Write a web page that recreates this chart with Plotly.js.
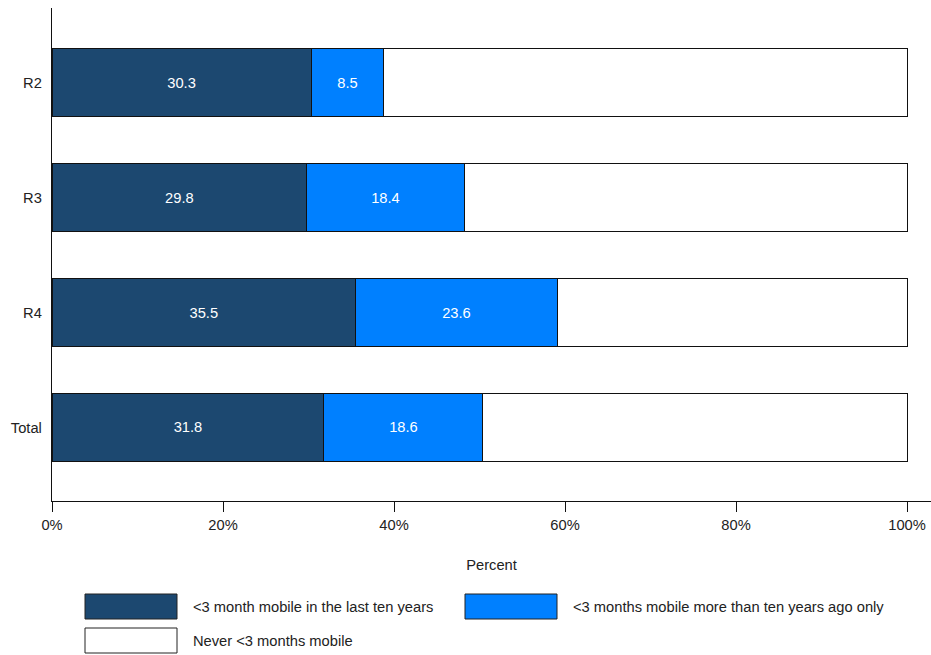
<!DOCTYPE html>
<html>
<head>
<meta charset="utf-8">
<script src="https://cdn.plot.ly/plotly-3.0.1.min.js"></script>
<style>html,body{margin:0;padding:0;background:#fff;}#chart{width:931px;height:655px;}</style>
</head>
<body>
<div id="chart"></div>
<script>
const categories = ["Total", "R4", "R3", "R2"];
const recentMobile = [31.8, 35.5, 29.8, 30.3];
const olderMobile = [18.6, 23.6, 18.4, 8.5];
const neverMobile = [49.6, 40.9, 51.8, 61.2];
const seriesNames = ["<3 month mobile in the last ten years", "<3 months mobile more than ten years ago only", "Never <3 months mobile"];
const seriesColors = ["#1c4870", "#0080ff", "#ffffff"];
const xTickVals = [0, 20, 40, 60, 80, 100];
const xTickText = ["0%", "20%", "40%", "60%", "80%", "100%"];

const font = "Liberation Sans, Arial, sans-serif";
const fs = 14.7;
const values = [recentMobile, olderMobile, neverMobile];
const traces = values.map((v, i) => ({
  type: "bar",
  orientation: "h",
  y: categories,
  x: v,
  name: seriesNames[i],
  width: 0.59,
  marker: {color: seriesColors[i], line: {color: "#111", width: 1}},
  text: i < 2 ? v.map(d => d.toFixed(1)) : undefined,
  textposition: i < 2 ? "inside" : "none",
  insidetextanchor: "middle",
  textfont: {color: "#ffffff", size: 14.7, family: font},
  hoverinfo: "x+name",
  showlegend: false
}));

// custom legend
const legendPos = [[85, 594], [465, 594], [85, 628]];
const shapes = [];
const annotations = [];
legendPos.forEach((p, i) => {
  shapes.push({type: "rect", xref: "paper", yref: "paper",
    x0: (p[0] - 52) / 879, x1: (p[0] + 92 - 52) / 879,
    y0: (501 - p[1]) / 493, y1: (501 - p[1] - 25) / 493,
    fillcolor: seriesColors[i], line: {color: "#222", width: 1}});
  annotations.push({xref: "paper", yref: "paper", x: (p[0] + 106 - 52) / 879,
    y: (501 - p[1] - 12.5) / 493, xanchor: "left", yanchor: "middle",
    text: seriesNames[i].replace(/</g, "&lt;"), showarrow: false,
    font: {family: font, size: fs, color: "#222"}});
});

const layout = {
  width: 931, height: 655,
  margin: {l: 52, r: 0, t: 8, b: 154},
  barmode: "stack",
  paper_bgcolor: "#fff", plot_bgcolor: "#fff",
  font: {family: font, size: fs, color: "#222"},
  xaxis: {
    range: [0, 102.8], tickvals: xTickVals, ticktext: xTickText,
    ticks: "outside", ticklen: 10, tickcolor: "#111", tickwidth: 1,
    showline: true, linecolor: "#111", linewidth: 1.2,
    showgrid: false, zeroline: false, fixedrange: true,
    tickfont: {family: font, size: fs, color: "#222"},
    title: {text: "Percent", font: {family: font, size: fs, color: "#222"}, standoff: 27}
  },
  yaxis: {
    range: [-0.64, 3.65], showline: true, linecolor: "#111", linewidth: 1.2,
    ticks: "", showgrid: false, zeroline: false, ticklabelstandoff: 6, fixedrange: true,
    tickfont: {family: font, size: fs, color: "#222"}
  },
  shapes: shapes,
  annotations: annotations,
  showlegend: false
};

Plotly.newPlot("chart", traces, layout, {displayModeBar: false, staticPlot: true});
</script>
</body>
</html>
